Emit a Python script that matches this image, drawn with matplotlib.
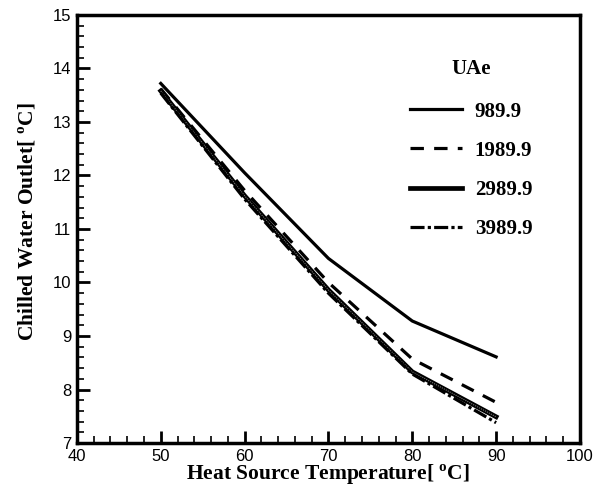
import matplotlib
matplotlib.use('Agg')
import matplotlib.pyplot as plt
from matplotlib.ticker import MultipleLocator

# data
temp = [50, 60, 70, 80, 90]
ua_labels = ['989.9', '1989.9', '2989.9', '3989.9']
outlet_989 = [13.72, 12.05, 10.45, 9.28, 8.61]
outlet_1989 = [13.62, 11.72, 10.0, 8.57, 7.76]
outlet_2989 = [13.58, 11.62, 9.86, 8.33, 7.49]
outlet_3989 = [13.54, 11.56, 9.80, 8.29, 7.38]

plt.rcParams['font.family'] = 'Liberation Sans'
plt.rcParams['mathtext.fontset'] = 'custom'
plt.rcParams['mathtext.rm'] = 'Liberation Serif:bold'
plt.rcParams['mathtext.bf'] = 'Liberation Serif:bold'

fig = plt.figure(figsize=(6.01, 4.87), dpi=100)
ax = fig.add_axes([0.128, 0.0903, 0.837, 0.879])

lw = 2.3
ax.plot(temp, outlet_989, color='black', lw=lw, label=ua_labels[0])
ax.plot(temp, outlet_1989, color='black', lw=lw, dashes=(4.2, 3.2), label=ua_labels[1])
ax.plot(temp, outlet_2989, color='black', lw=3.4, label=ua_labels[2])
ax.plot(temp, outlet_2989, color='#777777', lw=0.8, ls=(0, (1, 1)))
ax.plot(temp, outlet_3989, color='black', lw=lw, dashes=(4.4, 1.0, 1.0, 1.0), label=ua_labels[3])

ax.set_xlim(40, 100)
ax.set_ylim(7, 15)
ax.xaxis.set_major_locator(MultipleLocator(10))
ax.xaxis.set_minor_locator(MultipleLocator(2))
ax.yaxis.set_major_locator(MultipleLocator(1))
ax.yaxis.set_minor_locator(MultipleLocator(0.2))

ax.tick_params(which='both', direction='in', top=False, right=False, width=2,
               labelsize=12, pad=4)
ax.tick_params(which='major', length=9)
ax.tick_params(which='minor', length=5, width=1.2)
for s in ax.spines.values():
    s.set_linewidth(2.5)

ax.set_xlabel(r'Heat Source Temperature[ $^{\mathrm{o}}$C]', family='Liberation Serif',
              fontweight='bold', fontsize=15.5, labelpad=-1)
ax.set_ylabel(r'Chilled Water Outlet[ $^{\mathrm{o}}$C]', family='Liberation Serif',
              fontweight='bold', fontsize=15.5)
ax.yaxis.set_label_coords(-0.076, 0.516)

leg = ax.legend(loc='upper left', bbox_to_anchor=(0.625, 0.94), frameon=False,
                title='UAe', handlelength=2.5, handletextpad=0.6, labelspacing=0.92,
                prop={'family': 'Liberation Serif', 'weight': 'bold', 'size': 15})
leg.get_title().set_fontfamily('Liberation Serif')
leg.get_title().set_fontweight('bold')
leg.get_title().set_fontsize(15)
leg._legend_box.sep = 16

fig.savefig('out.png', dpi=100)
